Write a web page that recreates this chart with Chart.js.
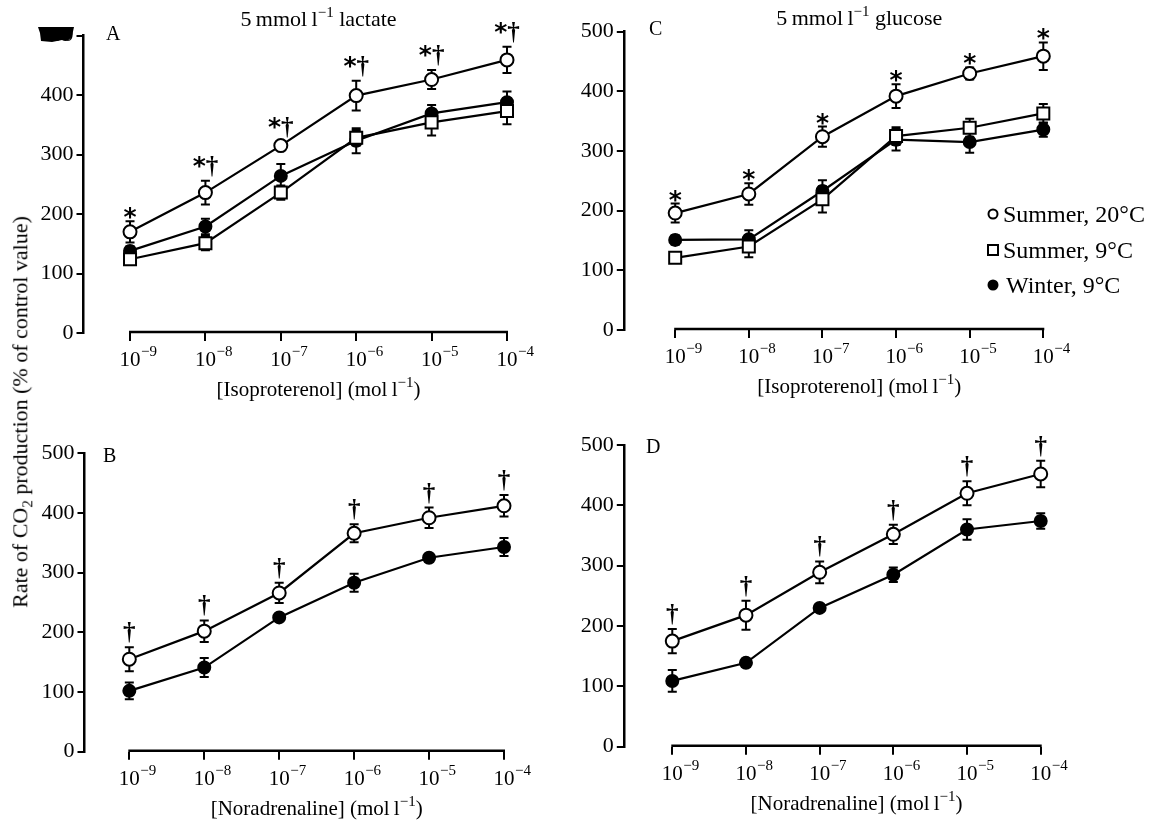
<!DOCTYPE html>
<html>
<head>
<meta charset="utf-8">
<script src="https://cdn.jsdelivr.net/npm/chart.js@4.4.0/dist/chart.umd.min.js"></script>
<style>
  body { margin: 0; background: #fff; width: 1152px; height: 824px; position: relative; overflow: hidden; font-family: 'Liberation Serif', serif; }
  canvas { position: absolute; }
  #ytitle { position: absolute; left: 22px; top: 412px; transform: translate(-50%, -50%) rotate(-90deg); white-space: nowrap; font-size: 22px; color: #000; }
</style>
</head>
<body>
<canvas id="panelA" width="576" height="412" style="left:0;top:0"></canvas>
<canvas id="panelC" width="576" height="412" style="left:576px;top:0"></canvas>
<canvas id="panelB" width="576" height="412" style="left:0;top:412px"></canvas>
<canvas id="panelD" width="576" height="412" style="left:576px;top:412px"></canvas>
<div id="ytitle">Rate of CO<sub style="font-size:15px">2</sub> production (% of control value)</div>
<script>
// agonist concentration, as log10 (mol l-1)
const exponents = [-9, -8, -7, -6, -5, -4];
const seriesNames = ['Summer, 20°C', 'Summer, 9°C', 'Winter, 9°C'];

// A: 5 mmol l-1 lactate, isoproterenol
const lacIsoS20 = [170, 236, 315, 399, 426, 459];
const lacIsoS20Err = [18, 20, 6, 25, 16, 22];
const lacIsoS9 = [124, 151, 236, 328, 354, 373];
const lacIsoS9Err = [8, 12, 12, 13, 22, 22];
const lacIsoW9 = [138, 179, 264, 323, 369, 388];
const lacIsoW9Err = [8, 13, 20, 21, 14, 18];
const lacIsoMarks = ['*', '*†', '*†', '*†', '*†', '*†'];

// C: 5 mmol l-1 glucose, isoproterenol
const gluIsoS20 = [196, 228, 324, 392, 430, 459];
const gluIsoS20Err = [16, 18, 17, 20, 10, 23];
const gluIsoS9 = [121, 140, 219, 325, 339, 363];
const gluIsoS9Err = [7, 18, 22, 15, 15, 16];
const gluIsoW9 = [151, 152, 233, 319, 315, 336];
const gluIsoW9Err = [8, 15, 18, 18, 18, 12];
const gluIsoMarks = ['*', '*', '*', '*', '*', '*'];

// B: lactate, noradrenaline
const lacNorS20 = [155, 202, 266, 366, 392, 412];
const lacNorS20Err = [20, 18, 17, 15, 17, 18];
const lacNorW9 = [102, 141, 225, 283, 325, 343];
const lacNorW9Err = [14, 16, 5, 15, 6, 15];
const lacNorMarks = ['†', '†', '†', '†', '†', '†'];

// D: glucose, noradrenaline
const gluNorS20 = [175, 218, 289, 352, 420, 452];
const gluNorS20Err = [20, 24, 18, 16, 20, 22];
const gluNorW9 = [109, 139, 230, 285, 360, 374];
const gluNorW9Err = [18, 7, 5, 12, 17, 13];
const gluNorMarks = ['†', '†', '†', '†', '†', '†'];

const FONT = '"Liberation Serif", serif';

const styles = {
  s20: { pointStyle: 'circle', radius: 6.5, fill: '#fff' },
  s9: { pointStyle: 'rect', radius: 8.5, fill: '#fff' },
  w9: { pointStyle: 'circle', radius: 6, fill: '#000' }
};

// draw text pieces, some raised as superscripts
function drawParts(ctx, parts, x, y, size, align) {
  const supSize = Math.round(size * 0.7);
  let total = 0;
  const widths = parts.map(p => {
    ctx.font = (p[1] ? supSize : size) + 'px ' + FONT;
    return ctx.measureText(p[0]).width;
  });
  widths.forEach(w => total += w);
  let cx = align === 'center' ? x - total / 2 : x;
  ctx.textAlign = 'left';
  ctx.textBaseline = 'alphabetic';
  parts.forEach((p, i) => {
    ctx.font = (p[1] ? supSize : size) + 'px ' + FONT;
    ctx.fillText(p[0], cx, p[1] ? y - size * 0.42 : y);
    cx += widths[i];
  });
}

// significance marks above the upper error bar
function drawMark(ctx, str, cx, barTop) {
  const chars = [...str];
  const fonts = chars.map(c => c === '*' ? 'bold 25px "DejaVu Sans"' : 'bold 25px ' + FONT);
  const widths = chars.map((c, i) => { ctx.font = fonts[i]; return ctx.measureText(c).width; });
  let x = cx - widths.reduce((a, b) => a + b, 0) / 2;
  const top = str.includes('†') ? barTop - 25 : barTop - 14;
  ctx.textAlign = 'left';
  ctx.textBaseline = 'alphabetic';
  chars.forEach((c, i) => {
    ctx.font = fonts[i];
    const m = ctx.measureText(c);
    ctx.fillText(c, x, top + m.actualBoundingBoxAscent);
    x += widths[i];
  });
}

function makePanel(id, p) {
  const W = 576, H = 412;
  const datasets = p.series.map(s => ({
    label: s.name,
    data: exponents.map((e, i) => ({ x: e, y: s.values[i] })),
    borderColor: '#000',
    borderWidth: 2.2,
    pointStyle: s.style.pointStyle,
    pointRadius: s.style.radius,
    pointBackgroundColor: s.style.fill,
    pointBorderColor: '#000',
    pointBorderWidth: 2,
    clip: false,
    tension: 0
  }));

  const panelPlugin = {
    id: 'panel_' + id,
    beforeDatasetsDraw(chart) {
      const ctx = chart.ctx, xs = chart.scales.x, ys = chart.scales.y;
      ctx.save();
      ctx.strokeStyle = '#000';
      // x axis line, first to last decade only
      ctx.lineWidth = 2.5;
      ctx.beginPath();
      ctx.moveTo(xs.getPixelForValue(-9) - 1, chart.chartArea.bottom - 1);
      ctx.lineTo(xs.getPixelForValue(-4) + 1, chart.chartArea.bottom - 1);
      ctx.stroke();
      // error bars
      ctx.lineWidth = 2;
      p.series.forEach((s, di) => {
        const meta = chart.getDatasetMeta(di);
        meta.data.forEach((pt, i) => {
          const hi = ys.getPixelForValue(s.values[i] + s.err[i]);
          const lo = ys.getPixelForValue(s.values[i] - s.err[i]);
          ctx.beginPath();
          ctx.moveTo(pt.x, hi); ctx.lineTo(pt.x, lo);
          ctx.moveTo(pt.x - 4.5, hi); ctx.lineTo(pt.x + 4.5, hi);
          ctx.moveTo(pt.x - 4.5, lo); ctx.lineTo(pt.x + 4.5, lo);
          ctx.stroke();
        });
      });
      ctx.restore();
    },
    afterDraw(chart) {
      const ctx = chart.ctx, xs = chart.scales.x, ys = chart.scales.y, area = chart.chartArea;
      ctx.save();
      ctx.fillStyle = '#000';
      // tick labels 10^n
      exponents.forEach(e => {
        const x = xs.getPixelForValue(e);
        ctx.font = '21px ' + FONT;
        ctx.textAlign = 'center';
        ctx.textBaseline = 'alphabetic';
        const w = ctx.measureText('10').width;
        ctx.fillText('10', x, area.bottom + 33);
        ctx.font = '15px ' + FONT;
        ctx.textAlign = 'left';
        ctx.fillText('\u2212' + (-e), x + w / 2 + 0.5, area.bottom + 23);
      });
      const mid = (xs.getPixelForValue(-9) + xs.getPixelForValue(-4)) / 2;
      drawParts(ctx, [['[' + p.drug + '] (mol\u2009l', false], ['\u22121', true], [')', false]], mid, area.bottom + 63, 21, 'center');
      if (p.title) {
        drawParts(ctx, [['5\u2009mmol\u2009l', false], ['\u22121', true], [' ' + p.title, false]], mid, p.titleY, 22, 'center');
      }
      ctx.font = '20px ' + FONT;
      ctx.textAlign = 'left';
      ctx.fillText(p.letter, p.letterX, p.letterY);
      // significance marks over the summer 20 °C series
      const top = p.series[0];
      p.marks.forEach((m, i) => {
        drawMark(ctx, m, xs.getPixelForValue(exponents[i]), ys.getPixelForValue(top.values[i] + top.err[i]));
      });
      if (p.legend) {
        const lx = 417, rows = [214, 250, 285];
        ctx.lineWidth = 2;
        ctx.strokeStyle = '#000';
        rows.forEach((ry, i) => {
          ctx.beginPath();
          if (i === 0) { ctx.arc(lx, ry, 4.5, 0, Math.PI * 2); ctx.fillStyle = '#fff'; ctx.fill(); ctx.stroke(); }
          if (i === 1) { ctx.fillStyle = '#fff'; ctx.rect(lx - 5, ry - 5, 10, 10); ctx.fill(); ctx.stroke(); }
          if (i === 2) { ctx.arc(lx, ry, 5.5, 0, Math.PI * 2); ctx.fillStyle = '#000'; ctx.fill(); }
          ctx.fillStyle = '#000';
          ctx.font = '24px ' + FONT;
          ctx.textAlign = 'left';
          ctx.fillText(seriesNames[i], lx + (i === 2 ? 13 : 10), ry + 8);
        });
      }
      if (p.blob) {
        // ink blot over the top tick label in the original
        ctx.fillStyle = '#000';
        ctx.beginPath();
        ctx.moveTo(38, 27); ctx.lineTo(74, 27); ctx.lineTo(72, 36);
        ctx.quadraticCurveTo(68, 43, 62, 40); ctx.lineTo(52, 42); ctx.lineTo(41, 41);
        ctx.lineTo(40, 33); ctx.closePath();
        ctx.fill();
      }
      ctx.restore();
    }
  };

  return new Chart(document.getElementById(id), {
    type: 'line',
    data: { datasets },
    options: {
      responsive: false,
      animation: false,
      layout: { padding: { left: 0, top: p.top, right: W - p.right, bottom: H - p.bottom - 10 } },
      plugins: { legend: { display: false }, tooltip: { enabled: false } },
      scales: {
        x: {
          type: 'linear', min: p.min, max: -4,
          afterBuildTicks: s => { s.ticks = exponents.map(v => ({ value: v })); },
          afterFit: s => { s.height = 10; },
          ticks: { display: false },
          border: { display: false },
          grid: { drawOnChartArea: false, drawTicks: true, tickLength: 8, color: '#000', lineWidth: 2 }
        },
        y: {
          min: 0, max: 500,
          afterFit: s => { s.width = p.left; },
          ticks: { stepSize: 100, color: '#000', padding: 3, font: { family: 'Liberation Serif', size: 22 } },
          border: { display: true, color: '#000', width: 2.5 },
          grid: { drawOnChartArea: false, drawTicks: true, tickLength: 7, color: '#000', lineWidth: 2 }
        }
      }
    },
    plugins: [panelPlugin]
  });
}

makePanel('panelA', {
  series: [
    { name: seriesNames[0], values: lacIsoS20, err: lacIsoS20Err, style: styles.s20 },
    { name: seriesNames[1], values: lacIsoS9, err: lacIsoS9Err, style: styles.s9 },
    { name: seriesNames[2], values: lacIsoW9, err: lacIsoW9Err, style: styles.w9 }
  ],
  marks: lacIsoMarks, drug: 'Isoproterenol', title: 'lactate', titleY: 26,
  letter: 'A', letterX: 106, letterY: 40,
  left: 83.5, top: 35.5, right: 507, bottom: 333, min: -9.617, blob: true
});

makePanel('panelC', {
  series: [
    { name: seriesNames[0], values: gluIsoS20, err: gluIsoS20Err, style: styles.s20 },
    { name: seriesNames[1], values: gluIsoS9, err: gluIsoS9Err, style: styles.s9 },
    { name: seriesNames[2], values: gluIsoW9, err: gluIsoW9Err, style: styles.w9 }
  ],
  marks: gluIsoMarks, drug: 'Isoproterenol', title: 'glucose', titleY: 25,
  letter: 'C', letterX: 73, letterY: 35,
  left: 47.8, top: 31.7, right: 467.3, bottom: 330, min: -9.698, legend: true
});

makePanel('panelB', {
  series: [
    { name: seriesNames[0], values: lacNorS20, err: lacNorS20Err, style: styles.s20 },
    { name: seriesNames[2], values: lacNorW9, err: lacNorW9Err, style: styles.w9 }
  ],
  marks: lacNorMarks, drug: 'Noradrenaline',
  letter: 'B', letterX: 103, letterY: 50,
  left: 84.5, top: 41.3, right: 504, bottom: 339.7, min: -9.598
});

makePanel('panelD', {
  series: [
    { name: seriesNames[0], values: gluNorS20, err: gluNorS20Err, style: styles.s20 },
    { name: seriesNames[2], values: gluNorW9, err: gluNorW9Err, style: styles.w9 }
  ],
  marks: gluNorMarks, drug: 'Noradrenaline',
  letter: 'D', letterX: 70, letterY: 41,
  left: 47.8, top: 33, right: 464.7, bottom: 334.7, min: -9.658
});
</script>
</body>
</html>
